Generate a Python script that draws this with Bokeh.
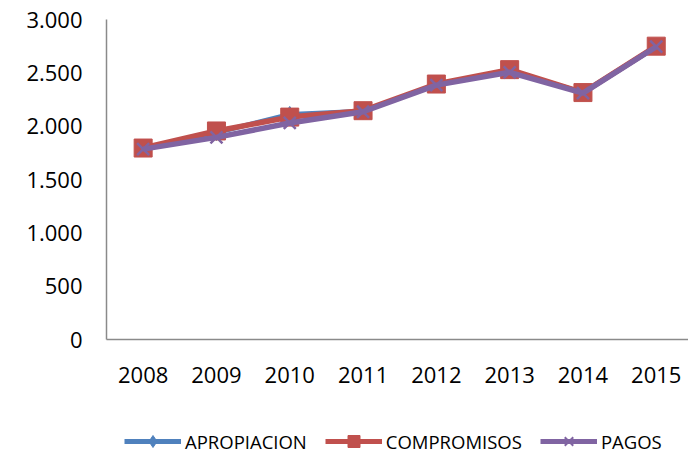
from bokeh.plotting import figure
from bokeh.models import Range1d, FixedTicker, Legend, LegendItem
from bokeh.layouts import column
from bokeh.embed import file_html
from bokeh.resources import INLINE

years = ["2008", "2009", "2010", "2011", "2012", "2013", "2014", "2015"]
apropiacion = [1790, 1940, 2110, 2140, 2390, 2520, 2315, 2745]
compromisos = [1795, 1955, 2085, 2145, 2395, 2530, 2315, 2750]
pagos = [1785, 1895, 2030, 2135, 2385, 2505, 2310, 2745]
series_names = ["APROPIACION", "COMPROMISOS", "PAGOS"]
y_ticks = [0, 500, 1000, 1500, 2000, 2500, 3000]
y_tick_labels = ["0", "500", "1.000", "1.500", "2.000", "2.500", "3.000"]

xs = list(range(len(years)))

p = figure(width=688, height=400, output_backend="svg", toolbar_location=None,
           x_range=Range1d(-0.5, 7.44), y_range=Range1d(0, 3000),
           min_border_left=106, min_border_right=0, min_border_top=19, min_border_bottom=61)
p.outline_line_color = None
p.xgrid.visible = False
p.ygrid.visible = False
p.background_fill_color = "white"
p.border_fill_color = "white"

FONT = "Open Sans"
for ax in (p.xaxis[0], p.yaxis[0]):
    ax.axis_line_color = "#8a8a8a"
    ax.axis_line_width = 1.5
    ax.major_tick_line_color = None
    ax.minor_tick_line_color = None
    ax.major_tick_out = 0
    ax.major_tick_in = 0
    ax.major_label_text_font = FONT
    ax.major_label_text_font_size = "22px"
    ax.major_label_text_color = "#000000"

p.xaxis.ticker = FixedTicker(ticks=xs)
p.xaxis.major_label_overrides = {i: y for i, y in enumerate(years)}
p.xaxis.major_label_standoff = 27
p.yaxis.ticker = FixedTicker(ticks=y_ticks)
p.yaxis.major_label_overrides = {t: l for t, l in zip(y_ticks, y_tick_labels)}
p.yaxis.major_label_standoff = 24

BLUE, RED, PURPLE = "#4F81BD", "#C0504D", "#8064A2"
colors = [BLUE, RED, PURPLE]
markers = ["diamond", "square", "x"]
all_series = [apropiacion, compromisos, pagos]

p.line(xs, apropiacion, line_color=BLUE, line_width=5)
p.scatter(xs, apropiacion, marker="diamond", size=16, fill_color=BLUE, line_color=BLUE)
p.line(xs, compromisos, line_color=RED, line_width=5.5)
p.scatter(xs, compromisos, marker="square", size=18, fill_color=RED, line_color=RED)
p.line(xs, pagos, line_color=PURPLE, line_width=5.5)
p.scatter(xs, pagos, marker="x", size=17, line_color=PURPLE, line_width=2.5)

# legend strip below the chart (its frame is aligned with the chart's frame)
lg = figure(width=688, height=53, output_backend="svg", toolbar_location=None,
            x_range=Range1d(-0.5, 7.44), y_range=Range1d(-10, -9),
            x_axis_location=None, y_axis_location=None,
            min_border_left=0, min_border_right=0, min_border_top=0, min_border_bottom=0)
lg.outline_line_color = None
lg.xgrid.visible = False
lg.ygrid.visible = False
lg.background_fill_color = "white"
lg.border_fill_color = "white"

items = []
for name, col, mk, vals in zip(series_names, colors, markers, all_series):
    # same data as the chart; it lies outside this strip's range, so only the legend shows
    lr = lg.line(xs, vals, line_color=col, line_width=5)
    if mk == "x":
        mr = lg.scatter(xs, vals, marker=mk, line_color=col, line_width=2)
    else:
        mr = lg.scatter(xs, vals, marker=mk, fill_color=col, line_color=col)
    items.append(LegendItem(label=name, renderers=[lr, mr]))

legend = Legend(items=items, orientation="horizontal", location=(18, -3))
legend.border_line_color = None
legend.background_fill_alpha = 0
legend.padding = 0
legend.margin = 0
legend.spacing = 18
legend.glyph_width = 57
legend.glyph_height = 30
legend.label_height = 18
legend.label_standoff = 4
legend.label_text_font = FONT
legend.label_text_font_size = "18.5px"
legend.label_text_color = "#000000"
lg.add_layout(legend, "center")

layout = column(p, lg, spacing=0)
open("out.html", "w").write(file_html(layout, INLINE))
